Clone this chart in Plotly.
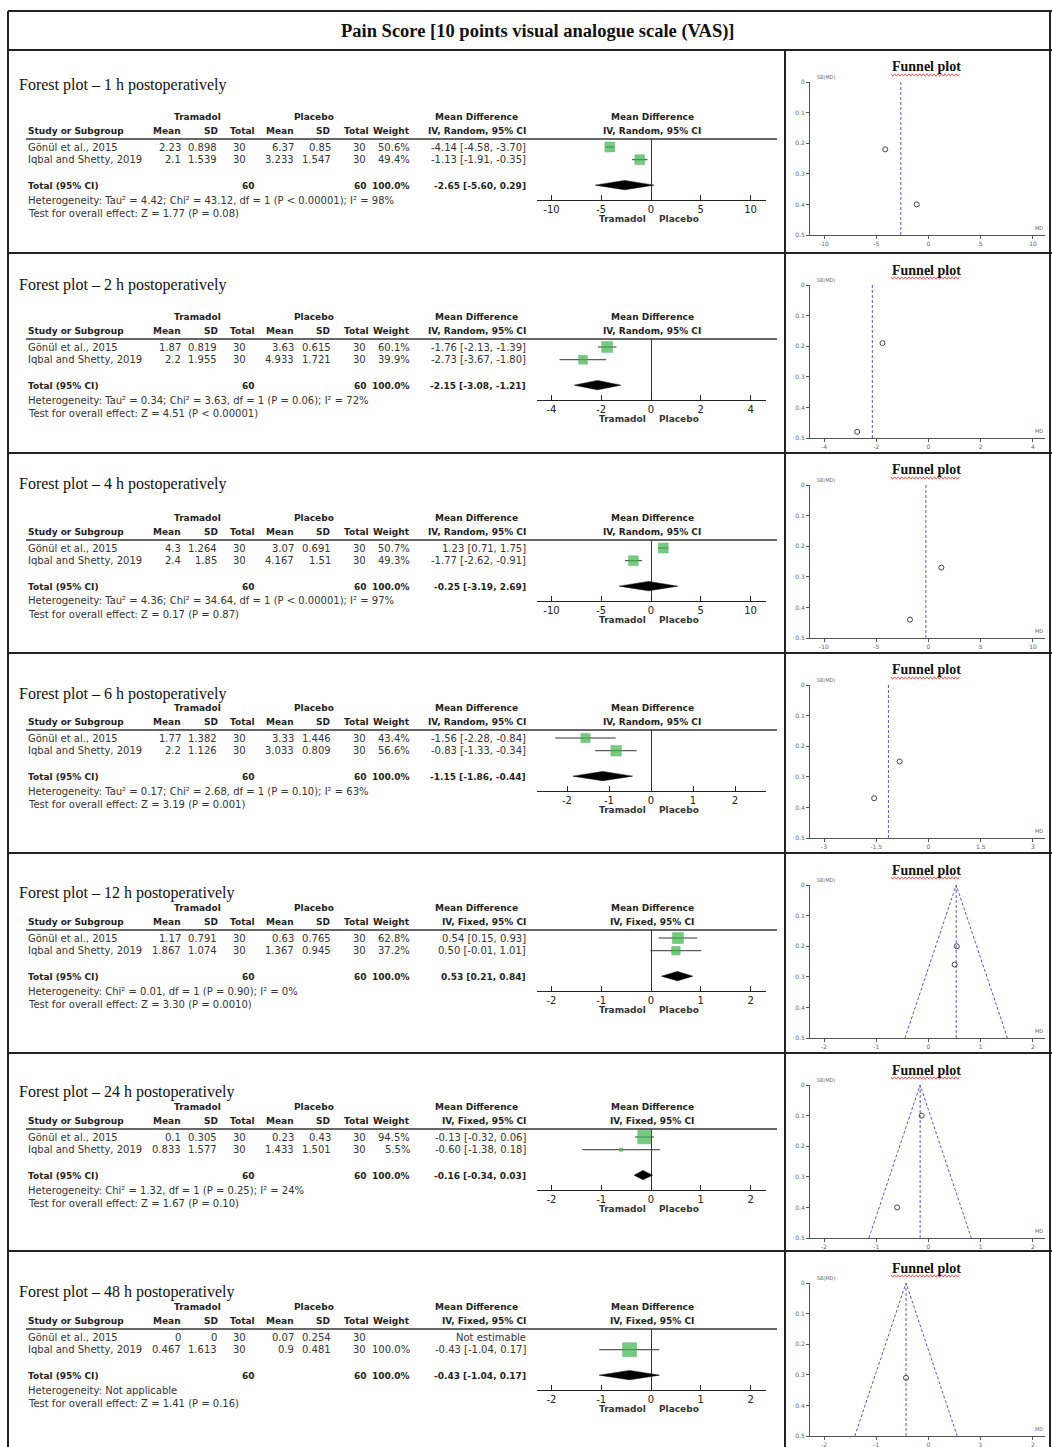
import plotly.graph_objects as go

W, H = 1052, 1447
def px(x): return x / W
def py(y): return 1 - y / H

SANS = "DejaVu Sans"
SERIF = "Liberation Serif, Times New Roman, serif"
GREEN = "#3cb54a"

# ---------------- data ----------------
timepoints = ["1 h", "2 h", "4 h", "6 h", "12 h", "24 h", "48 h"]
studies = ["Gönül et al., 2015", "Iqbal and Shetty, 2019"]
model = ["Random", "Random", "Random", "Random", "Fixed", "Fixed", "Fixed"]
n_tramadol = [30, 30]
n_placebo = [30, 30]
n_total = [60, 60]

tram_mean = [["2.23", "2.1"], ["1.87", "2.2"], ["4.3", "2.4"], ["1.77", "2.2"],
             ["1.17", "1.867"], ["0.1", "0.833"], ["0", "0.467"]]
tram_sd = [["0.898", "1.539"], ["0.819", "1.955"], ["1.264", "1.85"], ["1.382", "1.126"],
           ["0.791", "1.074"], ["0.305", "1.577"], ["0", "1.613"]]
plac_mean = [["6.37", "3.233"], ["3.63", "4.933"], ["3.07", "4.167"], ["3.33", "3.033"],
             ["0.63", "1.367"], ["0.23", "1.433"], ["0.07", "0.9"]]
plac_sd = [["0.85", "1.547"], ["0.615", "1.721"], ["0.691", "1.51"], ["1.446", "0.809"],
           ["0.765", "0.945"], ["0.43", "1.501"], ["0.254", "0.481"]]
weights = [[50.6, 49.4], [60.1, 39.9], [50.7, 49.3], [43.4, 56.6],
           [62.8, 37.2], [94.5, 5.5], [None, 100.0]]
md = [[-4.14, -1.13], [-1.76, -2.73], [1.23, -1.77], [-1.56, -0.83],
      [0.54, 0.50], [-0.13, -0.60], [None, -0.43]]
ci_lo = [[-4.58, -1.91], [-2.13, -3.67], [0.71, -2.62], [-2.28, -1.33],
         [0.15, -0.01], [-0.32, -1.38], [None, -1.04]]
ci_hi = [[-3.70, -0.35], [-1.39, -1.80], [1.75, -0.91], [-0.84, -0.34],
         [0.93, 1.01], [0.06, 0.18], [None, 0.17]]
tot_md = [-2.65, -2.15, -0.25, -1.15, 0.53, -0.16, -0.43]
tot_lo = [-5.60, -3.08, -3.19, -1.86, 0.21, -0.34, -1.04]
tot_hi = [0.29, -1.21, 2.69, -0.44, 0.84, 0.03, 0.17]
se_md = [[0.22, 0.40], [0.19, 0.48], [0.27, 0.44], [0.37, 0.25],
         [0.20, 0.26], [0.10, 0.40], [None, 0.31]]
heterogeneity = [
    "Heterogeneity: Tau² = 4.42; Chi² = 43.12, df = 1 (P < 0.00001); I² = 98%",
    "Heterogeneity: Tau² = 0.34; Chi² = 3.63, df = 1 (P = 0.06); I² = 72%",
    "Heterogeneity: Tau² = 4.36; Chi² = 34.64, df = 1 (P < 0.00001); I² = 97%",
    "Heterogeneity: Tau² = 0.17; Chi² = 2.68, df = 1 (P = 0.10); I² = 63%",
    "Heterogeneity: Chi² = 0.01, df = 1 (P = 0.90); I² = 0%",
    "Heterogeneity: Chi² = 1.32, df = 1 (P = 0.25); I² = 24%",
    "Heterogeneity: Not applicable",
]
overall = [
    "Test for overall effect: Z = 1.77 (P = 0.08)",
    "Test for overall effect: Z = 4.51 (P < 0.00001)",
    "Test for overall effect: Z = 0.17 (P = 0.87)",
    "Test for overall effect: Z = 3.19 (P = 0.001)",
    "Test for overall effect: Z = 3.30 (P = 0.0010)",
    "Test for overall effect: Z = 1.67 (P = 0.10)",
    "Test for overall effect: Z = 1.41 (P = 0.16)",
]
forest_ticks = [[-10, -5, 0, 5, 10], [-4, -2, 0, 2, 4], [-10, -5, 0, 5, 10],
                [-2, -1, 0, 1, 2], [-2, -1, 0, 1, 2], [-2, -1, 0, 1, 2], [-2, -1, 0, 1, 2]]
funnel_ticks = [[-10, -5, 0, 5, 10], [-4, -2, 0, 2, 4], [-10, -5, 0, 5, 10],
                [-3, -1.5, 0, 1.5, 3], [-2, -1, 0, 1, 2], [-2, -1, 0, 1, 2], [-2, -1, 0, 1, 2]]
funnel_base_lo = [None, None, None, None, -0.45, -1.14, -1.41]
funnel_base_hi = [None, None, None, None, 1.51, 0.82, 0.55]

# ---------------- layout geometry ----------------
row_top = [50, 253, 453, 653, 853, 1053, 1251]
title_y = [85, 285, 484, 694, 893, 1092, 1292]
head_y = [117, 317, 518, 708, 908, 1107, 1307]
forest_px_per_unit = [9.95, 24.9, 9.95, 42.0, 49.8, 49.8, 49.8]

fig = go.Figure()
ann_list, shp_list, axes = [], [], {}

def ann(x, y, text, xanchor="left", size=10, family=SANS, color="#222", bold=False):
    if bold:
        text = "<b>" + text + "</b>"
    ann_list.append(dict(x=px(x), y=py(y), xref="paper", yref="paper", text=text,
                         showarrow=False, xanchor=xanchor, yanchor="middle",
                         font=dict(size=size, family=family, color=color)))

def hline(x0, x1, y, color="#222", width=1.5):
    shp_list.append(dict(type="line", xref="paper", yref="paper", x0=px(x0), x1=px(x1),
                         y0=py(y), y1=py(y), line=dict(color=color, width=width)))

def vline(x, y0, y1, color="#222", width=1.5):
    shp_list.append(dict(type="line", xref="paper", yref="paper", x0=px(x), x1=px(x),
                         y0=py(y0), y1=py(y1), line=dict(color=color, width=width)))

def fmt(v):
    return f"{v:.2f}"

def tick_txt(v):
    return str(int(v)) if float(v).is_integer() else str(v)

# borders
hline(8, 1052, 11, width=2)
hline(8, 1052, 50, width=2)
for t in row_top[1:]:
    hline(8, 1052, t, width=2)
vline(8, 11, 1447, width=2)
vline(1050, 11, 1447, width=2)
vline(785, 50, 1447, width=2)
ann(538, 31, "Pain Score [10 points visual analogue scale (VAS)]", xanchor="center",
    size=18.5, family=SERIF, color="#111", bold=True)

# column positions (right edges)
C_MT, C_ST, C_TT = 183, 219, 248
C_MP, C_SP, C_TP = 296, 333, 368
C_W, C_CI = 412, 528
HB = 9      # bold header size
RV = 10     # regular value size

for k in range(7):
    top, hy = row_top[k], head_y[k]
    fi, fu = 2 * k + 1, 2 * k + 2
    xf, yf = ("x" if fi == 1 else f"x{fi}"), ("y" if fi == 1 else f"y{fi}")
    xu, yu = f"x{fu}", f"y{fu}"
    mdl = model[k]

    # ---- titles and table ----
    ann(17, title_y[k], f"Forest plot – {timepoints[k]} postoperatively", size=16,
        family=SERIF, color="#111")
    ann(197, hy, "Tramadol", "center", HB, bold=True)
    ann(314, hy, "Placebo", "center", HB, bold=True)
    ann(476, hy, "Mean Difference", "center", HB, bold=True)
    ann(652, hy, "Mean Difference", "center", HB, bold=True)
    ch = hy + 14
    ann(26, ch, "Study or Subgroup", "left", HB, bold=True)
    for x, t in [(C_MT, "Mean"), (C_ST + 1, "SD"), (257, "Total"), (C_MP, "Mean"),
                 (C_SP - 1, "SD"), (371, "Total"), (C_W, "Weight"),
                 (C_CI, f"IV, {mdl}, 95% CI")]:
        ann(x, ch, t, "right", HB, bold=True)
    ann(652, ch, f"IV, {mdl}, 95% CI", "center", HB, bold=True)
    hline(26, 777, hy + 22, color="#333", width=1.5)

    for i in range(2):
        ry = hy + 30 + 12.5 * i
        ann(26, ry, studies[i], "left", RV, color="#333")
        ann(C_MT, ry, tram_mean[k][i], "right", RV, color="#333")
        ann(C_ST, ry, tram_sd[k][i], "right", RV, color="#333")
        ann(C_TT, ry, str(n_tramadol[i]), "right", RV, color="#333")
        ann(C_MP, ry, plac_mean[k][i], "right", RV, color="#333")
        ann(C_SP, ry, plac_sd[k][i], "right", RV, color="#333")
        ann(C_TP, ry, str(n_placebo[i]), "right", RV, color="#333")
        if weights[k][i] is not None:
            ann(C_W, ry, f"{weights[k][i]:.1f}%", "right", RV, color="#333")
            ann(C_CI, ry, f"{fmt(md[k][i])} [{fmt(ci_lo[k][i])}, {fmt(ci_hi[k][i])}]",
                "right", RV, color="#333")
        else:
            ann(C_CI, ry, "Not estimable", "right", RV, color="#333")
    ty = hy + 68.5
    ann(26, ty, "Total (95% CI)", "left", HB, bold=True)
    ann(257, ty, str(n_total[0]), "right", HB, bold=True)
    ann(369, ty, str(n_total[1]), "right", HB, bold=True)
    ann(C_W, ty, "100.0%", "right", HB, bold=True)
    ann(C_CI, ty, f"{fmt(tot_md[k])} [{fmt(tot_lo[k])}, {fmt(tot_hi[k])}]", "right", HB, bold=True)
    ann(26, hy + 83, heterogeneity[k], "left", RV, color="#333")
    ann(26, hy + 96, overall[k], "left", RV, color="#333")
    ann(648, hy + 102, "Tramadol", "right", HB, color="#333", bold=True)
    ann(657, hy + 102, "Placebo", "left", HB, color="#333", bold=True)

    # ---- forest plot ----
    ppu = forest_px_per_unit[k]
    idx = [i for i in range(2) if md[k][i] is not None]
    lx, ly = [], []
    for i in idx:
        lx += [ci_lo[k][i], ci_hi[k][i], None]
        ly += [i + 1, i + 1, None]
    fig.add_trace(go.Scatter(x=lx, y=ly, mode="lines", line=dict(color="#333", width=1),
                             xaxis=xf, yaxis=yf, showlegend=False, hoverinfo="skip",
                             cliponaxis=False))
    fig.add_trace(go.Scatter(
        x=[md[k][i] for i in idx], y=[i + 1 for i in idx], mode="markers",
        marker=dict(symbol="square", color=GREEN,
                    size=[max(3, 14 * (weights[k][i] / 100) ** 0.5) for i in idx],
                    line=dict(color="#2e9a3b", width=0.5)),
        xaxis=xf, yaxis=yf, showlegend=False, hoverinfo="skip", cliponaxis=False))
    fig.add_trace(go.Scatter(
        x=[tot_lo[k], tot_md[k], tot_hi[k], tot_md[k], tot_lo[k]],
        y=[4, 3.63, 4, 4.37, 4], mode="lines", fill="toself", fillcolor="#000",
        line=dict(color="#000", width=0.5), xaxis=xf, yaxis=yf, showlegend=False,
        hoverinfo="skip", cliponaxis=False))
    tv = forest_ticks[k]
    axes["xaxis" if fi == 1 else f"xaxis{fi}"] = dict(
        domain=[px(537), px(766)], range=[-(651 - 537) / ppu, (766 - 651) / ppu], anchor=yf,
        showline=True, linecolor="#222", linewidth=1, ticks="inside", ticklen=5,
        tickcolor="#222", tickvals=tv, ticktext=[tick_txt(v) for v in tv],
        tickfont=dict(size=10, family=SANS, color="#222"), showgrid=False,
        zeroline=True, zerolinecolor="#333", zerolinewidth=1, fixedrange=True)
    axes["yaxis" if fi == 1 else f"yaxis{fi}"] = dict(
        domain=[py(hy + 83), py(hy + 22)], range=[5.17, 0.37], anchor=xf,
        visible=False, fixedrange=True)

    # ---- funnel plot ----
    tvf = funnel_ticks[k]
    Lf = tvf[-1]
    f0, f1 = top + 32, top + 185
    ann(926, top + 17, "Funnel plot", "center", 14, family=SERIF, color="#111", bold=True)
    pts = []
    xs = 891.0
    j = 0
    while xs <= 961:
        pts.append(f"{'M' if j == 0 else 'L'}{px(xs):.5f},{py(top + 25 + (1.2 if j % 2 else -1.2)):.5f}")
        xs += 1.8
        j += 1
    shp_list.append(dict(type="path", xref="paper", yref="paper", path=" ".join(pts),
                         line=dict(color="#e03030", width=0.8)))
    fig.add_trace(go.Scatter(x=[tot_md[k], tot_md[k]], y=[0, 0.5], mode="lines",
                             line=dict(color="#5a5acd", width=1, dash="3px,2px"),
                             xaxis=xu, yaxis=yu, showlegend=False, hoverinfo="skip",
                             cliponaxis=False))
    if funnel_base_lo[k] is not None:
        fig.add_trace(go.Scatter(x=[funnel_base_lo[k], tot_md[k], funnel_base_hi[k]],
                                 y=[0.5, 0, 0.5], mode="lines",
                                 line=dict(color="#5a5acd", width=1, dash="3px,2px"),
                                 xaxis=xu, yaxis=yu, showlegend=False, hoverinfo="skip",
                                 cliponaxis=False))
    fig.add_trace(go.Scatter(x=[md[k][i] for i in idx], y=[se_md[k][i] for i in idx],
                             mode="markers",
                             marker=dict(symbol="circle-open", size=5, color="#444",
                                         line=dict(width=1)),
                             xaxis=xu, yaxis=yu, showlegend=False, hoverinfo="skip",
                             cliponaxis=False))
    axes[f"xaxis{fu}"] = dict(
        domain=[px(810), px(1045)], range=[-1.134 * Lf, 1.115 * Lf], anchor=yu,
        showline=True, linecolor="#555", linewidth=1, ticks="outside", ticklen=3,
        tickcolor="#555", tickvals=tvf, ticktext=[tick_txt(v) for v in tvf],
        tickfont=dict(size=6, family=SANS, color="#666"), showgrid=False,
        zeroline=False, fixedrange=True)
    axes[f"yaxis{fu}"] = dict(
        domain=[py(f1), py(f0)], range=[0.5, 0], anchor=xu,
        showline=True, linecolor="#555", linewidth=1, ticks="outside", ticklen=3,
        tickcolor="#555", tickvals=[0, 0.1, 0.2, 0.3, 0.4, 0.5],
        ticktext=["0", "0.1", "0.2", "0.3", "0.4", "0.5"],
        tickfont=dict(size=6, family=SANS, color="#666"), showgrid=False,
        zeroline=False, fixedrange=True)
    ann_list.append(dict(x=0.02, y=1.0, xref=f"{xu} domain", yref=f"{yu} domain",
                         text="SE(MD)", showarrow=False, xanchor="left", yanchor="bottom",
                         font=dict(size=5, family=SANS, color="#666")))
    ann_list.append(dict(x=1.0, y=0.01, xref=f"{xu} domain", yref=f"{yu} domain",
                         text="MD", showarrow=False, xanchor="right", yanchor="bottom",
                         font=dict(size=5, family=SANS, color="#666")))

fig.update_layout(width=W, height=H, margin=dict(l=0, r=0, t=0, b=0, autoexpand=False),
                  paper_bgcolor="white", plot_bgcolor="rgba(0,0,0,0)",
                  annotations=ann_list, shapes=shp_list, showlegend=False, **axes)
fig.write_html("out.html", config={"displayModeBar": False, "staticPlot": True},
               post_script="document.body.style.margin='0px';document.body.style.padding='0px';"
                           "document.body.style.overflow='hidden';")
